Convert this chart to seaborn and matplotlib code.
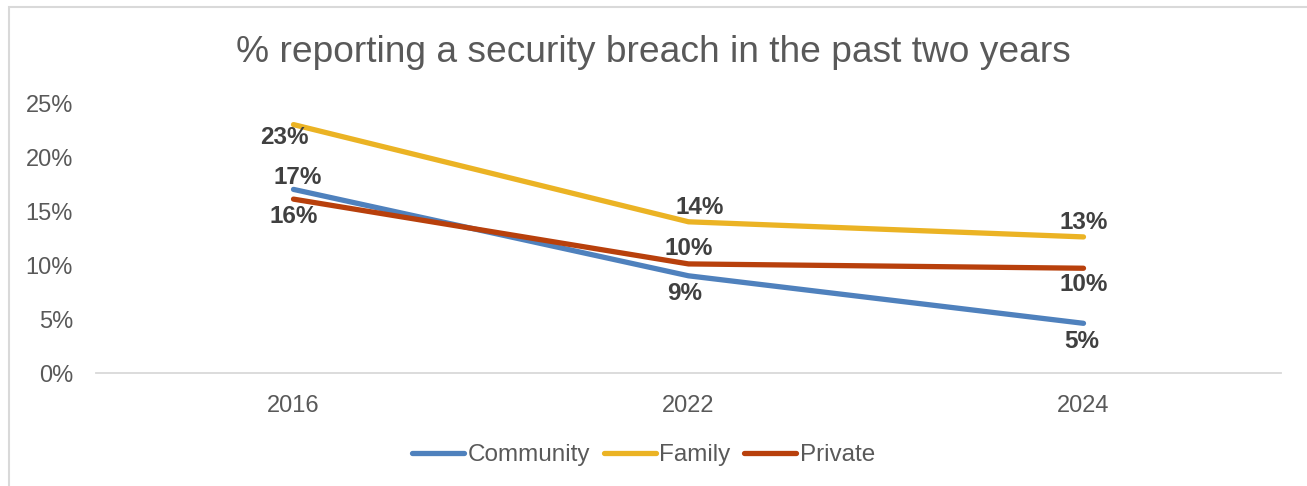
import matplotlib
matplotlib.use('Agg')
import matplotlib.pyplot as plt
import pandas as pd
import seaborn as sns
from matplotlib.patches import Rectangle

# data (percent)
years = ['2016', '2022', '2024']
community = [17.0, 9.0, 4.6]
family = [23.0, 14.0, 12.6]
private = [16.1, 10.1, 9.7]
series = ['Community', 'Family', 'Private']
colors = ['#4F81BD', '#EBB324', '#B8400C']

df = pd.DataFrame({
    'Year': years * 3,
    'Value': community + family + private,
    'Series': [s for s in series for _ in years],
})

sns.set_style('white')
plt.rcParams['font.family'] = ['Liberation Sans', 'DejaVu Sans']

fig = plt.figure(figsize=(13.07, 4.86), dpi=100)
ax = fig.add_axes([96 / 1307, 1 - 373 / 486, (1281 - 96) / 1307, 270 / 486])

sns.lineplot(data=df, x='Year', y='Value', hue='Series', palette=colors,
             sort=False, linewidth=3.8, ax=ax, legend=True)
for ln in ax.lines:
    ln.set_solid_capstyle('round')
    ln.set_solid_joinstyle('round')

ax.set_xlim(-0.5, 2.5)
ax.set_ylim(0, 25)
ax.set_yticks([0, 5, 10, 15, 20, 25])
ax.set_yticklabels([f'{t}%' for t in [0, 5, 10, 15, 20, 25]])
ax.set_xlabel('')
ax.set_ylabel('')
ax.tick_params(axis='both', length=0, labelsize=17, labelcolor='#595959')
ax.tick_params(axis='y', pad=16.5)
ax.tick_params(axis='x', pad=16)
for s in ['top', 'right', 'left']:
    ax.spines[s].set_visible(False)
ax.spines['bottom'].set_color('#D9D9D9')
ax.spines['bottom'].set_linewidth(1.3)

# data labels (offsets in pixels)
offsets = {
    'Community': [(4, 12), (-4, -18), (-2, -18)],
    'Family': [(-9, -13), (11, 14), (0, 14)],
    'Private': [(0, -17), (0, 15), (0, -16)],
}
vals = {'Community': community, 'Family': family, 'Private': private}
for s in series:
    for i, v in enumerate(vals[s]):
        ax.annotate(f'{v:.0f}%', (i, v), xytext=offsets[s][i],
                    textcoords='offset pixels', ha='center', va='center',
                    fontsize=17.5, fontweight='bold', color='#404040')

ax.get_legend().remove()
handles = ax.lines[:3]
leg = fig.legend(handles, series, loc='center', bbox_to_anchor=(643.5 / 1307, 1 - 455 / 486),
                 ncol=3, frameon=False, fontsize=17.5, handlelength=2.15,
                 handletextpad=0.15, columnspacing=0.55, labelcolor='#595959')

fig.text(0.5, 1 - 52 / 486, '% reporting a security breach in the past two years',
         ha='center', va='center', fontsize=26.7, color='#595959')

fig.patches.append(Rectangle((9 / 1307, -0.1), 1.2, 1 - 7 / 486 + 0.1,
                             transform=fig.transFigure, fill=False,
                             edgecolor='#D9D9D9', linewidth=1.5))

fig.savefig('out.png', dpi=100)
